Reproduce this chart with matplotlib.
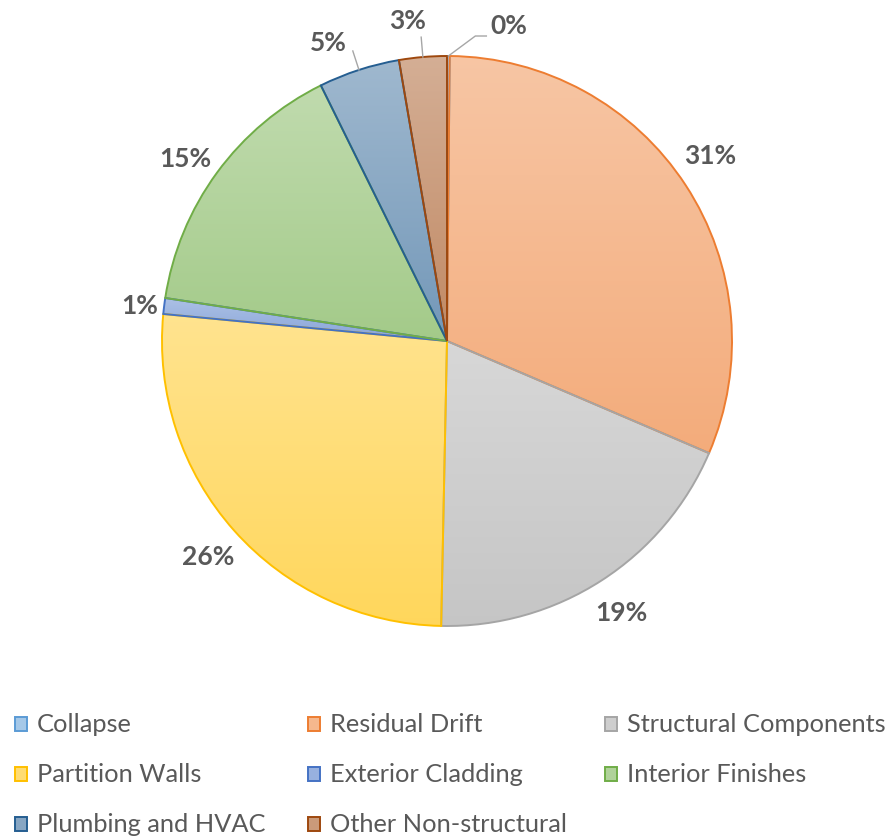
import numpy as np
import matplotlib
matplotlib.use("Agg")
import matplotlib.pyplot as plt
from matplotlib.colors import to_rgb
from matplotlib.patches import Rectangle

# data (percent of total loss)
categories = ["Collapse", "Residual Drift", "Structural Components",
              "Partition Walls", "Exterior Cladding", "Interior Finishes",
              "Plumbing and HVAC", "Other Non-structural"]
shares = [0.15, 31.3, 18.9, 26.2, 0.9, 15.3, 4.6, 2.7]
labels = ["0%", "31%", "19%", "26%", "1%", "15%", "5%", "3%"]
colours = ["#5B9BD5", "#ED7D31", "#A5A5A5", "#FFC000",
           "#4472C4", "#70AD47", "#255E91", "#9E480E"]

# label placement: radius factor and angle nudge (deg) per slice
lab_r = [1.125, 1.13, 1.135, 1.13, 1.085, 1.12, 1.125, 1.13]
lab_da = [-10.8, 1.9, -0.2, 0.4, 0.5, 1.4, 3.8, 2.2]

TXT = "#595959"
CX, CY, R = 447, 499, 285


def tint(c, f):
    c = np.array(to_rgb(c))
    return c + (1 - c) * f


fig = plt.figure(figsize=(8.95, 8.4), dpi=100)
ax = fig.add_axes([0, 0, 1, 1])

wedges, _ = ax.pie(shares, startangle=90, counterclock=False,
                   center=(CX, CY), radius=R,
                   wedgeprops=dict(linewidth=1.4))

for w, c in zip(wedges, colours):
    t = np.radians(np.linspace(w.theta1, w.theta2, 200))
    xs = np.r_[CX, CX + R * np.cos(t)]
    ys = np.r_[CY, CY + R * np.sin(t)]
    grad = np.linspace(0, 1, 256)[:, None, None]
    img = tint(c, 0.36)[None, None, :] * (1 - grad) + tint(c, 0.56)[None, None, :] * grad
    im = ax.imshow(img, extent=[xs.min(), xs.max(), ys.min(), ys.max()],
                   origin="lower", aspect="auto", zorder=1, interpolation="bilinear")
    im.set_clip_path(w)
    w.set_facecolor("none")
    w.set_edgecolor(c)
    w.set_zorder(2)

# data labels
for w, lab, rf, da in zip(wedges, labels, lab_r, lab_da):
    mid = np.radians((w.theta1 + w.theta2) / 2 + da)
    ax.text(CX + rf * R * np.cos(mid), CY + rf * R * np.sin(mid), lab,
            ha="center", va="center", fontsize=19, fontweight="bold",
            color=TXT, family="Lato")

# leader lines for the crowded slices at the top
lead = "#A6A6A6"
for i in (6, 7):
    mid = np.radians((wedges[i].theta1 + wedges[i].theta2) / 2)
    ax.plot([CX + R * np.cos(mid), CX + 1.07 * R * np.cos(mid)],
            [CY + R * np.sin(mid), CY + 1.07 * R * np.sin(mid)],
            color=lead, lw=1.0, zorder=3)
mid = np.radians((wedges[0].theta1 + wedges[0].theta2) / 2)
x0, y0 = CX + R * np.cos(mid), CY + R * np.sin(mid)
ax.plot([x0, x0 + 27, x0 + 38], [y0, y0 + 20, y0 + 20], color=lead, lw=1.0, zorder=3)

# legend, row-major like the original
col_x = [15, 308, 605]
row_y = [116, 66, 16]
for k, (name, c) in enumerate(zip(categories, colours)):
    x, y = col_x[k % 3], row_y[k // 3]
    ax.add_patch(Rectangle((x, y - 7), 12, 14, facecolor=tint(c, 0.45),
                           edgecolor=c, lw=1.4))
    ax.text(x + 22, y, name, ha="left", va="center", fontsize=18.3,
            color=TXT, family="Lato")

ax.set_xlim(0, 895)
ax.set_ylim(0, 840)
ax.set_aspect("equal")
ax.axis("off")

fig.savefig("out.png", dpi=100)
